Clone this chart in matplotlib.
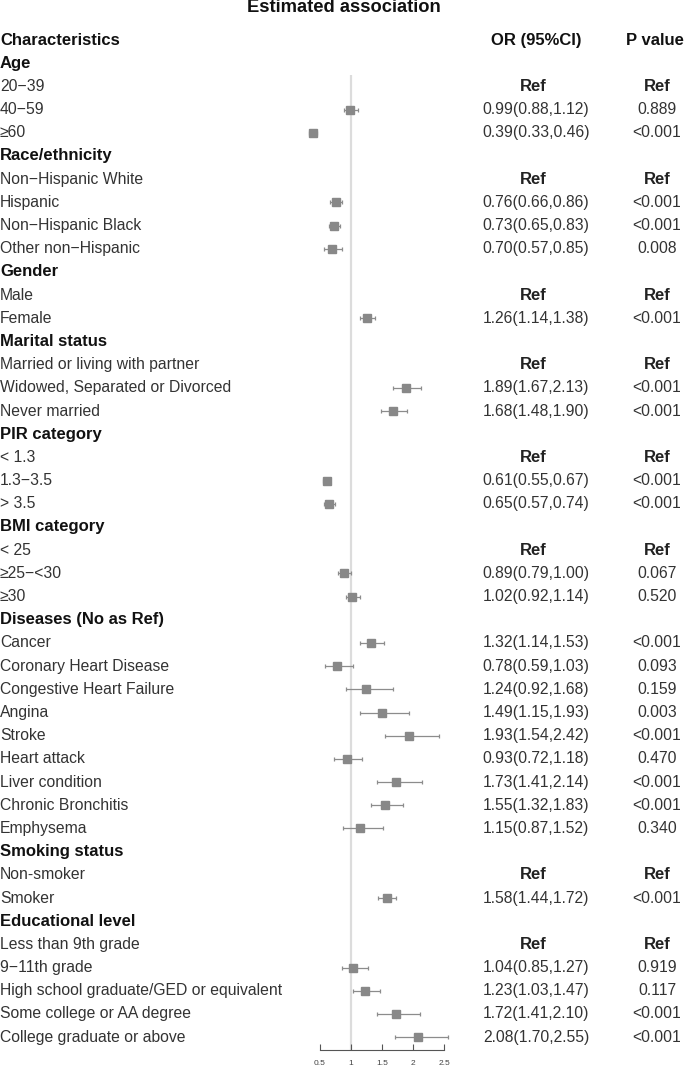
import numpy as np
import matplotlib
matplotlib.use('Agg')
import matplotlib.pyplot as plt
import matplotlib.transforms as mtransforms

plt.rcParams['font.family'] = ['Liberation Sans', 'DejaVu Sans']

# rows below the column header
labels = ['Age', '20\u221239', '40\u221259', '\u226560',
          'Race/ethnicity', 'Non\u2212Hispanic White', 'Hispanic', 'Non\u2212Hispanic Black', 'Other non\u2212Hispanic',
          'Gender', 'Male', 'Female',
          'Marital status', 'Married or living with partner', 'Widowed, Separated or Divorced', 'Never married',
          'PIR category', '< 1.3', '1.3\u22123.5', '> 3.5',
          'BMI category', '< 25', '\u226525\u2212<30', '\u226530',
          'Diseases (No as Ref)', 'Cancer', 'Coronary Heart Disease', 'Congestive Heart Failure', 'Angina',
          'Stroke', 'Heart attack', 'Liver condition', 'Chronic Bronchitis', 'Emphysema',
          'Smoking status', 'Non-smoker', 'Smoker',
          'Educational level', 'Less than 9th grade', '9\u221211th grade',
          'High school graduate/GED or equivalent', 'Some college or AA degree', 'College graduate or above']

headers = {'Age', 'Race/ethnicity', 'Gender', 'Marital status', 'PIR category', 'BMI category',
           'Diseases (No as Ref)', 'Smoking status', 'Educational level'}

nan = np.nan
odds = [nan, nan, 0.99, 0.39,
        nan, nan, 0.76, 0.73, 0.70,
        nan, nan, 1.26,
        nan, nan, 1.89, 1.68,
        nan, nan, 0.61, 0.65,
        nan, nan, 0.89, 1.02,
        nan, 1.32, 0.78, 1.24, 1.49, 1.93, 0.93, 1.73, 1.55, 1.15,
        nan, nan, 1.58,
        nan, nan, 1.04, 1.23, 1.72, 2.08]
lower = [nan, nan, 0.88, 0.33,
         nan, nan, 0.66, 0.65, 0.57,
         nan, nan, 1.14,
         nan, nan, 1.67, 1.48,
         nan, nan, 0.55, 0.57,
         nan, nan, 0.79, 0.92,
         nan, 1.14, 0.59, 0.92, 1.15, 1.54, 0.72, 1.41, 1.32, 0.87,
         nan, nan, 1.44,
         nan, nan, 0.85, 1.03, 1.41, 1.70]
upper = [nan, nan, 1.12, 0.46,
         nan, nan, 0.86, 0.83, 0.85,
         nan, nan, 1.38,
         nan, nan, 2.13, 1.90,
         nan, nan, 0.67, 0.74,
         nan, nan, 1.00, 1.14,
         nan, 1.53, 1.03, 1.68, 1.93, 2.42, 1.18, 2.14, 1.83, 1.52,
         nan, nan, 1.72,
         nan, nan, 1.27, 1.47, 2.10, 2.55]
pvals = ['', 'Ref', '0.889', '<0.001',
         '', 'Ref', '<0.001', '<0.001', '0.008',
         '', 'Ref', '<0.001',
         '', 'Ref', '<0.001', '<0.001',
         '', 'Ref', '<0.001', '<0.001',
         '', 'Ref', '0.067', '0.520',
         '', '<0.001', '0.093', '0.159', '0.003', '<0.001', '0.470', '<0.001', '<0.001', '0.340',
         '', 'Ref', '<0.001',
         '', 'Ref', '0.919', '0.117', '<0.001', '<0.001']

W, H = 685, 1066
fig = plt.figure(figsize=(W / 100, H / 100), dpi=100)

# forest axes: px 300..460 horizontally, 0..1050 vertically
x0px, x1px = 300, 460
px_per_unit = 62.3
one_px = 351
ax = fig.add_axes([x0px / W, 1 - 1050 / H, (x1px - x0px) / W, 1050 / H])
row0, step = 40, 23.19
ax.set_xlim(1 + (x0px - one_px) / px_per_unit, 1 + (x1px - one_px) / px_per_unit)
ax.set_ylim((1050 - row0) / step, -row0 / step)

ys = np.arange(len(labels)) + 1  # row 0 is the column header
odds = np.array(odds)
lower = np.array(lower)
upper = np.array(upper)
ok = ~np.isnan(odds)

ax.plot([1, 1], [1.5, ax.get_ylim()[0]], color='#dcdcdc', lw=1.6, zorder=1, solid_capstyle='butt')
ax.errorbar(odds[ok], ys[ok], xerr=[odds[ok] - lower[ok], upper[ok] - odds[ok]],
            fmt='none', ecolor='#8c8c8c', elinewidth=0.9, capsize=1.6, capthick=0.9, zorder=2)
ax.plot(odds[ok], ys[ok], 's', color='#888888', markersize=5.2, zorder=3)

for s in ['top', 'right', 'left']:
    ax.spines[s].set_visible(False)
ax.spines['bottom'].set_bounds(0.5, 2.5)
ax.spines['bottom'].set_color('#555555')
ax.spines['bottom'].set_linewidth(0.8)
ax.set_yticks([])
ax.set_xticks([0.5, 1, 1.5, 2, 2.5])
ax.set_xticklabels(['0.5', '1', '1.5', '2', '2.5'])
ax.tick_params(axis='x', direction='in', length=4, width=0.8, color='#555555',
               labelsize=6, labelcolor='#444444', pad=7)
ax.patch.set_alpha(0)

tr = mtransforms.blended_transform_factory(fig.transFigure, ax.transData)
fs_b = 12
fs = 11.3
fig.text(344 / W, 1 - 8 / H, 'Estimated association', ha='center', va='center',
         fontsize=13.2, fontweight='bold', color='#111111')
ax.text(0.0, 0, 'Characteristics', transform=tr, ha='left', va='center',
        fontsize=fs_b, fontweight='bold', color='#111111', clip_on=False)
ax.text(536 / W, 0, 'OR (95%CI)', transform=tr, ha='center', va='center',
        fontsize=fs_b, fontweight='bold', color='#111111', clip_on=False)
ax.text(655 / W, 0, 'P value', transform=tr, ha='center', va='center',
        fontsize=fs_b, fontweight='bold', color='#111111', clip_on=False)

for i, lab in enumerate(labels):
    y = ys[i]
    if lab in headers:
        ax.text(0.0, y, lab, transform=tr, ha='left', va='center', fontsize=fs_b,
                fontweight='bold', color='#111111', clip_on=False)
        continue
    ax.text(0.0, y, lab, transform=tr, ha='left', va='center', fontsize=fs,
            color='#333333', clip_on=False)
    if pvals[i] == 'Ref':
        ax.text(533 / W, y, 'Ref', transform=tr, ha='center', va='center', fontsize=fs_b,
                fontweight='bold', color='#222222', clip_on=False)
        ax.text(657 / W, y, 'Ref', transform=tr, ha='center', va='center', fontsize=fs_b,
                fontweight='bold', color='#222222', clip_on=False)
    else:
        ci = '%.2f(%.2f,%.2f)' % (odds[i], lower[i], upper[i])
        ax.text(536 / W, y, ci, transform=tr, ha='center', va='center', fontsize=fs,
                color='#333333', clip_on=False)
        ax.text(657 / W, y, pvals[i], transform=tr, ha='center', va='center', fontsize=fs,
                color='#333333', clip_on=False)

fig.savefig('out.png', dpi=100)
